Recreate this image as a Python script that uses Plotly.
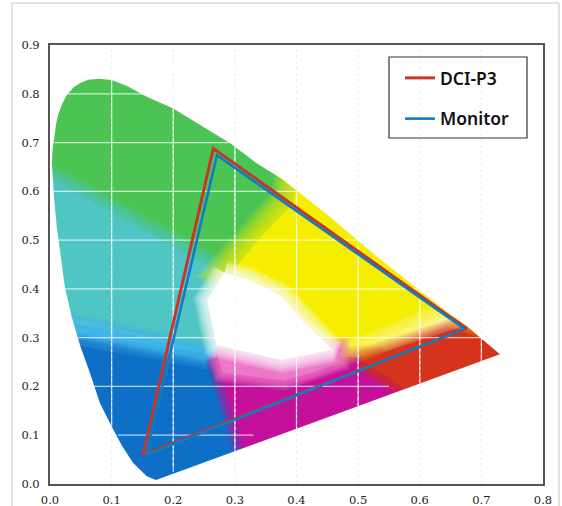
import plotly.graph_objects as go

tick_x = [0.0, 0.1, 0.2, 0.3, 0.4, 0.5, 0.6, 0.7, 0.8]
tick_y = [0.0, 0.1, 0.2, 0.3, 0.4, 0.5, 0.6, 0.7, 0.8, 0.9]

locus_x = [0.172, 0.157, 0.135, 0.117, 0.100, 0.081, 0.065, 0.049, 0.035, 0.024, 0.018, 0.014, 0.011, 0.007, 0.005,
           0.003, 0.004, 0.007, 0.010, 0.014, 0.020, 0.027, 0.038, 0.049, 0.062, 0.079, 0.100, 0.125, 0.157, 0.200,
           0.244, 0.293, 0.336, 0.376, 0.450, 0.522, 0.598, 0.680, 0.730, 0.172]
locus_y = [0.008, 0.016, 0.043, 0.078, 0.118, 0.166, 0.227, 0.283, 0.344, 0.405, 0.460, 0.490, 0.527, 0.580, 0.620,
           0.657, 0.684, 0.712, 0.739, 0.760, 0.780, 0.797, 0.813, 0.822, 0.829, 0.831, 0.828, 0.816, 0.794, 0.770,
           0.736, 0.698, 0.657, 0.626, 0.552, 0.475, 0.398, 0.320, 0.266, 0.008]

green_x = [-0.02, 0.48, 0.48, -0.02]
green_y = [0.88, 0.88, 0.40, 0.40]
cyan_x = [-0.02, 0.27, 0.29, 0.26, -0.02]
cyan_y = [0.640, 0.438, 0.33, 0.27, 0.36]
lightblue_x = [-0.02, 0.26, 0.28, -0.02]
lightblue_y = [0.345, 0.27, 0.22, 0.31]
blue_x = [-0.02, 0.25, 0.275, 0.32, 0.34, 0.17, -0.02]
blue_y = [0.30, 0.235, 0.24, 0.07, 0.02, 0.0, 0.10]
magenta_x = [0.27, 0.53, 0.585, 0.60, 0.325]
magenta_y = [0.26, 0.26, 0.19, 0.10, 0.03]
red_x = [0.505, 0.76, 0.78, 0.60, 0.576, 0.53]
red_y = [0.255, 0.36, 0.22, 0.15, 0.197, 0.232]
yellow_x = [0.395, 0.345, 0.295, 0.47, 0.50, 0.640, 0.70, 0.72, 0.50, 0.41]
yellow_y = [0.575, 0.51, 0.435, 0.29, 0.30, 0.375, 0.35, 0.42, 0.63, 0.68]
pink_x = [0.27, 0.47, 0.47, 0.43, 0.38, 0.28]
pink_y = [0.27, 0.28, 0.25, 0.23, 0.212, 0.228]
white_x = [0.283, 0.255, 0.270, 0.376, 0.458, 0.405, 0.376, 0.320]
white_y = [0.433, 0.377, 0.285, 0.254, 0.275, 0.340, 0.385, 0.420]

grid_v_x = [0.1, 0.2, 0.3, 0.4, 0.5, 0.6, 0.7]
grid_v_low = [0.118, 0.03, 0.067, 0.113, 0.16, 0.206, 0.252]
grid_v_high = [0.828, 0.77, 0.69, 0.60, 0.49, 0.39, 0.295]
grid_h_y = [0.8, 0.7, 0.6, 0.5, 0.4, 0.3, 0.2, 0.1]
grid_h_low = [0.022, 0.007, 0.006, 0.013, 0.025, 0.045, 0.07, 0.11]
grid_h_high = [0.16, 0.29, 0.40, 0.50, 0.60, 0.70, 0.55, 0.33]

p3_x = [0.676, 0.265, 0.151, 0.676]
p3_y = [0.319, 0.688, 0.060, 0.319]
monitor_x = [0.673, 0.271, 0.156, 0.673]
monitor_y = [0.318, 0.674, 0.060, 0.318]

fig = go.Figure()


def rgba(rgb, a):
    return f"rgba({rgb[0]},{rgb[1]},{rgb[2]},{a})"


def region(xs, ys, rgb, blur=0, steps=12):
    cx = xs + xs[:1]
    cy = ys + ys[:1]
    for i in range(steps, 0, -1):
        if blur:
            fig.add_trace(go.Scatter(x=cx, y=cy, mode="lines",
                                     line=dict(color=rgba(rgb, 0.12), width=2 * blur * i / steps),
                                     showlegend=False, hoverinfo="skip"))
    fig.add_trace(go.Scatter(x=cx, y=cy, mode="lines", fill="toself", fillcolor=rgba(rgb, 1),
                             line=dict(width=0, color=rgba(rgb, 0)), showlegend=False, hoverinfo="skip"))


region(green_x, green_y, (76, 196, 84))
region(cyan_x, cyan_y, (79, 198, 196), blur=14)
region(lightblue_x, lightblue_y, (63, 182, 232), blur=11)
region(blue_x, blue_y, (13, 111, 198), blur=11)
region(magenta_x, magenta_y, (196, 16, 154), blur=12)
region(red_x, red_y, (212, 52, 28), blur=12)
region(yellow_x, yellow_y, (246, 238, 0), blur=24)
region(pink_x, pink_y, (238, 120, 200), blur=10)
region(white_x, white_y, (255, 255, 255), blur=13)

# everything outside the horseshoe is paper white
mask_x = [-0.02, 0.82, 0.82, -0.02, -0.02] + locus_x + [-0.02]
mask_y = [-0.02, -0.02, 0.92, 0.92, -0.02] + locus_y + [-0.02]
fig.add_trace(go.Scatter(x=mask_x, y=mask_y, mode="lines", fill="toself", fillcolor="white",
                         line=dict(width=0, color="rgba(255,255,255,0)"), showlegend=False, hoverinfo="skip"))

# faint printed grid outside the horseshoe
for v in grid_v_x:
    fig.add_trace(go.Scatter(x=[v, v], y=[tick_y[0], tick_y[-1]], mode="lines",
                             line=dict(color="#ededed", width=1, dash="dot"), showlegend=False, hoverinfo="skip"))
for v, lo, hi in zip(grid_v_x, grid_v_low, grid_v_high):
    fig.add_trace(go.Scatter(x=[v, v], y=[lo, hi], mode="lines",
                             line=dict(color="rgba(255,255,255,0.7)", width=1.3), showlegend=False, hoverinfo="skip"))
for v, lo, hi in zip(grid_h_y, grid_h_low, grid_h_high):
    fig.add_trace(go.Scatter(x=[lo, hi], y=[v, v], mode="lines",
                             line=dict(color="rgba(255,255,255,0.7)", width=1.3), showlegend=False, hoverinfo="skip"))

fig.add_trace(go.Scatter(x=p3_x, y=p3_y, mode="lines", name="DCI-P3", legendgroup="a",
                         line=dict(color="#c8352b", width=3), hoverinfo="skip"))
fig.add_trace(go.Scatter(x=monitor_x, y=monitor_y, mode="lines", name="Monitor", legendgroup="b",
                         line=dict(color="#0f7cc4", width=2.6), hoverinfo="skip"))


def px(v):
    return (v - 50) / 493


def py(v):
    return (484 - v) / 439


frame = dict(type="line", xref="paper", yref="paper", line=dict(color="#c6c6c6", width=1))
fig.update_layout(
    width=562, height=506, autosize=False,
    margin=dict(l=50, r=19, t=45, b=22, pad=0),
    paper_bgcolor="white", plot_bgcolor="white",
    font=dict(family="DejaVu Serif", size=11.5, color="#222222"),
    showlegend=True,
    legend=dict(x=px(400), y=py(60), xanchor="left", yanchor="top",
                bgcolor="rgba(0,0,0,0)", borderwidth=0,
                font=dict(family="Noto Sans", size=17.5, color="#111111", weight=600),
                tracegroupgap=15, itemwidth=30, traceorder="grouped"),
    shapes=[
        dict(frame, x0=px(12), x1=px(12), y0=py(3), y1=py(506)),
        dict(frame, x0=px(12), x1=px(559), y0=py(3), y1=py(3)),
        dict(frame, x0=px(559), x1=px(559), y0=py(3), y1=py(506)),
        dict(type="rect", xref="paper", yref="paper", x0=px(389), x1=px(527), y0=py(57), y1=py(138),
             line=dict(color="#333333", width=1.2), fillcolor="rgba(0,0,0,0)"),
    ],
    xaxis=dict(range=[tick_x[0], tick_x[-1]], tickvals=tick_x, ticktext=[f"{v:.1f}" for v in tick_x],
               showgrid=False, zeroline=False, showline=True, mirror=True, linecolor="#555555", linewidth=2,
               ticks="outside", ticklen=4, tickcolor="rgba(0,0,0,0)", automargin=False),
    yaxis=dict(range=[tick_y[0], tick_y[-1]], tickvals=tick_y, ticktext=[f"{v:.1f}" for v in tick_y],
               showgrid=False, zeroline=False, showline=True, mirror=True, linecolor="#555555", linewidth=2,
               ticks="outside", ticklen=6, tickcolor="rgba(0,0,0,0)", automargin=False),
)

fig.write_html("out.html", config={"displayModeBar": False}, post_script="document.body.style.margin='0';")
